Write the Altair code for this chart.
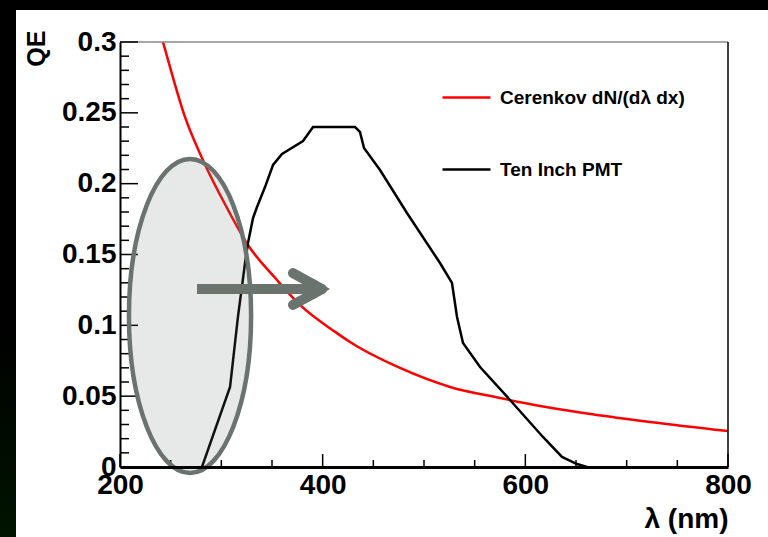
import altair as alt
import pandas as pd

# ---------------- data ----------------
series_names = ["Cerenkov dN/(dλ dx)", "Ten Inch PMT"]
series_colors = ["#ff0000", "#000000"]

cer_wl = [242.4, 249.3, 264.1, 280.9, 305.6, 326.3, 354.9, 377.6, 414.1, 427.0,
          476.3, 525.7, 575.0, 614.5, 651.0, 723.0, 800.0]
cer_qe = [0.300, 0.2824, 0.2471, 0.2181, 0.1828, 0.1567, 0.1320, 0.1144, 0.0945, 0.0882,
          0.0699, 0.0565, 0.0487, 0.0431, 0.0388, 0.0318, 0.0254]

pmt_wl = [280.9, 308.6, 316.4, 323.4, 326.3, 331.3, 335.2, 343.1, 351.0, 359.9,
          380.6, 390.5, 431.9, 436.8, 440.8, 456.6, 483.2, 515.8, 527.6, 532.6,
          538.5, 555.3, 584.9, 617.4, 636.2, 651.0, 660.9]
pmt_qe = [0.0, 0.0565, 0.1059, 0.1440, 0.1581, 0.1758, 0.1835, 0.1976, 0.2132, 0.2209,
          0.2301, 0.2400, 0.2400, 0.2365, 0.2252, 0.2096, 0.1793, 0.1440, 0.1299, 0.1059,
          0.0875, 0.0706, 0.0473, 0.0212, 0.0071, 0.0021, 0.0]

x_label_values = [200, 400, 600, 800]
x_minor_ticks = [250, 300, 350, 450, 500, 550, 650, 700, 750]
y_label_values = [0, 0.05, 0.1, 0.15, 0.2, 0.25, 0.3]
y_minor_ticks = [0.01, 0.02, 0.03, 0.04, 0.06, 0.07, 0.08, 0.09, 0.11, 0.12, 0.13, 0.14,
                 0.16, 0.17, 0.18, 0.19, 0.21, 0.22, 0.23, 0.24, 0.26, 0.27, 0.28, 0.29]

# annotation (ellipse + arrow) anchor points in data units
ellipse_wl = [269.1]
ellipse_qe = [0.1066]
shaft_wl = [276.0]
shaft_wl2 = [397.4]
shaft_qe = [0.1256]
arm_wl = [370.7, 370.7]
arm_qe = [0.1369, 0.1144]
arm_tip_wl = [399.3, 399.3]
arm_tip_qe = [0.1256, 0.1256]
head_wl = [399.3]
head_qe = [0.1256]

# ---------------- layout ----------------
W, H = 608, 425
FONT = "Liberation Sans"
GRAY = "#6a736e"

cer = pd.DataFrame({"wl": cer_wl, "qe": cer_qe, "series": series_names[0]})
pmt = pd.DataFrame({"wl": pmt_wl, "qe": pmt_qe, "series": series_names[1]})

xs = alt.Scale(domain=[200, 800], nice=False, zero=False)
ys = alt.Scale(domain=[0, 0.3], nice=False, zero=False)

XA = alt.Axis(
    values=x_label_values, ticks=False, grid=False, domainColor="black", domainWidth=3,
    labelFont=FONT, labelFontWeight="bold", labelFontSize=28, labelColor="black",
    labelPadding=4, labelOverlap=False, labelFlush=False, zindex=1,
    title="λ (nm)", titleFont=FONT, titleFontWeight="bold", titleFontSize=28,
    titleColor="black", titleX=W, titleY=60, titleAlign="right",
    titleBaseline="alphabetic")
YA = alt.Axis(
    values=y_label_values, format=".2~f", ticks=False, grid=False,
    domainColor="black", domainWidth=2,
    labelFont=FONT, labelFontWeight="bold", labelFontSize=28, labelColor="black",
    labelPadding=4, labelOverlap=False, labelFlush=False, zindex=1,
    title="QE", titleFont=FONT, titleFontWeight="bold", titleFontSize=25,
    titleColor="black", titleAngle=270, titleX=-96, titleY=-12,
    titleAlign="right", titleBaseline="top")


def X(field):
    return alt.X(field, scale=xs, axis=XA)


def Y(field):
    return alt.Y(field, scale=ys, axis=YA)


one = pd.DataFrame({"a": [0]})

# black border strips of the picture (left one fades to a very dark green at the bottom)
strip_fill = alt.Gradient(
    gradient="linear", x1=0, x2=0, y1=0, y2=1,
    stops=[alt.GradientStop(color="#000000", offset=0),
           alt.GradientStop(color="#000000", offset=0.6),
           alt.GradientStop(color="#001400", offset=1)])
left_strip = alt.Chart(one).mark_rect(color=strip_fill).encode(
    x=alt.value(-120), x2=alt.value(-104), y=alt.value(-42), y2=alt.value(H + 70))
top_strip = alt.Chart(one).mark_rect(color="black").encode(
    x=alt.value(-120), x2=alt.value(W + 40), y=alt.value(-42), y2=alt.value(-32))

# frame (top gray, right black)
top_frame = alt.Chart(one).mark_rule(color="#8a8a8a", strokeWidth=1.5).encode(
    x=alt.value(0), x2=alt.value(W), y=alt.value(0))
right_frame = alt.Chart(one).mark_rule(color="black", strokeWidth=1.5).encode(
    x=alt.value(W), y=alt.value(0), y2=alt.value(H))

# inward ticks
xt_major = alt.Chart(pd.DataFrame({"v": x_label_values})).mark_rule(color="black", strokeWidth=1.5).encode(
    x=X("v:Q"), y=alt.value(H), y2=alt.value(H - 13))
xt_minor = alt.Chart(pd.DataFrame({"v": x_minor_ticks})).mark_rule(color="black", strokeWidth=1.5).encode(
    x=X("v:Q"), y=alt.value(H), y2=alt.value(H - 7))
yt_major = alt.Chart(pd.DataFrame({"v": y_label_values})).mark_rule(color="black", strokeWidth=1.5).encode(
    y=Y("v:Q"), x=alt.value(0), x2=alt.value(18))
yt_minor = alt.Chart(pd.DataFrame({"v": y_minor_ticks})).mark_rule(color="black", strokeWidth=1.5).encode(
    y=Y("v:Q"), x=alt.value(0), x2=alt.value(9))

color_enc = alt.Color(
    "series:N", scale=alt.Scale(domain=series_names, range=series_colors),
    legend=alt.Legend(
        orient="none", legendX=321, legendY=30, title=None,
        symbolType="stroke", symbolSize=2304, symbolStrokeWidth=2.5,
        labelFont=FONT, labelFontWeight="bold", labelFontSize=19, labelLimit=0,
        labelColor="black", labelOffset=8, rowPadding=36, padding=0))

red_line = alt.Chart(cer).mark_line(strokeWidth=2.5, clip=True, interpolate="monotone").encode(
    x=X("wl:Q"), y=Y("qe:Q"), color=color_enc)
black_line = alt.Chart(pmt).mark_line(strokeWidth=2.5, clip=True).encode(
    x=X("wl:Q"), y=Y("qe:Q"), color=color_enc)

ellipse_path = ("M 0 -1 C 0.2148 -1 0.389 -0.5523 0.389 0 "
                "C 0.389 0.5523 0.2148 1 0 1 "
                "C -0.2148 1 -0.389 0.5523 -0.389 0 "
                "C -0.389 -0.5523 -0.2148 -1 0 -1 Z")
ellipse = alt.Chart(pd.DataFrame({"wl": ellipse_wl, "qe": ellipse_qe})).mark_point(
    shape=ellipse_path, size=98596, filled=True, fill=GRAY, fillOpacity=0.16,
    stroke=GRAY, strokeOpacity=1, strokeWidth=4.5, opacity=1).encode(
    x=X("wl:Q"), y=Y("qe:Q"))

shaft = alt.Chart(pd.DataFrame({"wl": shaft_wl, "wl2": shaft_wl2, "qe": shaft_qe})).mark_rule(
    color=GRAY, strokeWidth=10, strokeCap="butt").encode(
    x=X("wl:Q"), x2="wl2:Q", y=Y("qe:Q"))

arms = alt.Chart(pd.DataFrame({"wl": arm_wl, "qe": arm_qe, "wl2": arm_tip_wl, "qe2": arm_tip_qe})).mark_rule(
    color=GRAY, strokeWidth=10, strokeCap="round").encode(
    x=X("wl:Q"), x2="wl2:Q", y=Y("qe:Q"), y2="qe2:Q")

head = alt.Chart(pd.DataFrame({"wl": head_wl, "qe": head_qe})).mark_point(
    shape="M -0.8 -1 L 0.8 0 L -0.8 1 Z", size=400, filled=True, fill=GRAY, opacity=1,
    strokeWidth=0).encode(
    x=X("wl:Q"), y=Y("qe:Q"))

chart = alt.layer(
    red_line, black_line, left_strip, top_strip, top_frame, right_frame,
    xt_major, xt_minor, yt_major, yt_minor,
    ellipse, shaft, arms, head,
).properties(
    width=W, height=H,
    autosize=alt.AutoSizeParams(type="none"),
    padding={"left": 120, "top": 42, "right": 40, "bottom": 70},
).configure(background="white").configure_view(stroke=None)

chart.save("out.html", embed_options={"renderer": "svg", "actions": False})
